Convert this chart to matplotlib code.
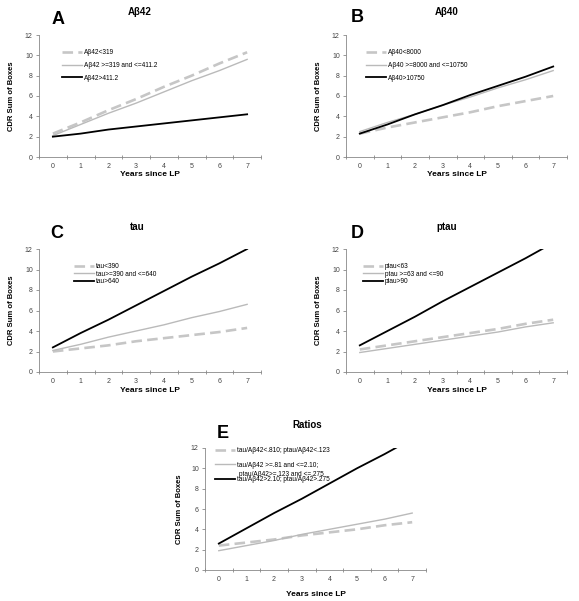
import matplotlib
matplotlib.use("Agg")
import matplotlib.pyplot as plt

plt.rcParams['font.family'] = ['Liberation Sans', 'DejaVu Sans']

years = [0, 1, 2, 3, 4, 5, 6, 7]

# panel A - Abeta42
a_low = [2.3, 3.4, 4.6, 5.7, 6.9, 8.0, 9.2, 10.3]
a_mid = [2.1, 3.2, 4.3, 5.3, 6.4, 7.5, 8.5, 9.6]
a_high = [2.0, 2.3, 2.7, 3.0, 3.3, 3.6, 3.9, 4.2]
a_labels = ["Aβ42<319", "Aβ42 >=319 and <=411.2", "Aβ42>411.2"]

# panel B - Abeta40
b_low = [2.3, 2.9, 3.4, 3.9, 4.4, 5.0, 5.5, 6.0]
b_mid = [2.5, 3.4, 4.2, 5.1, 5.9, 6.8, 7.6, 8.5]
b_high = [2.3, 3.2, 4.2, 5.1, 6.1, 7.0, 7.9, 8.9]
b_labels = ["Aβ40<8000", "Aβ40 >=8000 and <=10750", "Aβ40>10750"]

# panel C - tau
c_low = [2.0, 2.3, 2.6, 3.0, 3.3, 3.6, 3.9, 4.3]
c_mid = [2.1, 2.7, 3.4, 4.0, 4.6, 5.3, 5.9, 6.6]
c_high = [2.4, 3.8, 5.1, 6.5, 7.9, 9.3, 10.6, 12.0]
c_labels = ["tau<390", "tau>=390 and <=640", "tau>640"]

# panel D - ptau
d_low = [2.2, 2.6, 3.0, 3.4, 3.8, 4.2, 4.7, 5.1]
d_mid = [1.9, 2.3, 2.7, 3.1, 3.5, 3.9, 4.4, 4.8]
d_high = [2.6, 4.0, 5.4, 6.9, 8.3, 9.7, 11.1, 12.6]
d_labels = ["ptau<63", "ptau >=63 and <=90", "ptau>90"]

# panel E - ratios
e_low = [2.4, 2.7, 3.0, 3.4, 3.7, 4.0, 4.4, 4.7]
e_mid = [1.9, 2.4, 2.9, 3.5, 4.0, 4.5, 5.0, 5.6]
e_high = [2.6, 4.1, 5.6, 7.0, 8.5, 10.0, 11.4, 12.9]
e_labels = ["tau/Aβ42<.810; ptau/Aβ42<.123", "tau/Aβ42 >=.81 and <=2.10;",
            "tau/Aβ42>2.10; ptau/Aβ42>.275"]
e_extra = "ptau/Aβ42>=.123 and <=.275"

W, H = 579, 601
fig = plt.figure(figsize=(W / 100, H / 100), dpi=100)


def fx(x):
    return x / W


def fy(y):
    return 1 - y / H


def panel(box, letter, title, letter_xy, title_xy, ylab_x, xlab_y,
          low, mid, high, labels, leg_xy, spacing):
    left, top, right, bottom = box
    ax = fig.add_axes([fx(left), fy(bottom), fx(right - left), (bottom - top) / H])
    ax.plot(years, low, color="#c6c6c6", lw=1.9, dashes=(4, 2), label=labels[0])
    ax.plot(years, mid, color="#bababa", lw=1.0, label=labels[1])
    ax.plot(years, high, color="black", lw=1.3, label=labels[2])
    ax.set_xlim(-0.5, 7.5)
    ax.set_ylim(0, 12)
    ax.set_yticks(range(0, 13, 2))
    ax.set_xticks(years)
    ax.set_xticks([x - 0.5 for x in range(9)], minor=True)
    ax.tick_params(axis="x", which="major", length=0, labelsize=5, colors="#444444", pad=4)
    ax.tick_params(axis="x", which="minor", length=3, direction="inout", color="#888888", width=0.6)
    ax.tick_params(axis="y", length=2.5, width=0.6, color="#888888", labelsize=5,
                   labelcolor="#444444", pad=2)
    for s in ["top", "right"]:
        ax.spines[s].set_visible(False)
    for s in ["left", "bottom"]:
        ax.spines[s].set_color("#888888")
        ax.spines[s].set_linewidth(0.6)
    ax.patch.set_alpha(0)

    fig.text(fx(letter_xy[0]), fy(letter_xy[1]), letter, fontsize=13, fontweight="bold",
             ha="center", va="center")
    fig.text(fx(title_xy[0]), fy(title_xy[1]), title, fontsize=7, fontweight="bold",
             ha="center", va="center")
    fig.text(fx(ylab_x), fy((top + bottom) / 2), "CDR Sum of Boxes", fontsize=5.5,
             fontweight="bold", rotation=90, ha="center", va="center")
    fig.text(fx((left + right) / 2), fy(xlab_y), "Years since LP", fontsize=6,
             fontweight="bold", ha="center", va="center")

    ax.legend(loc="upper left", bbox_to_anchor=(fx(leg_xy[0]), fy(leg_xy[1])),
              bbox_transform=fig.transFigure, frameon=False, fontsize=4.7,
              borderpad=0, borderaxespad=0, handlelength=3.0, handletextpad=0.3,
              labelspacing=spacing)
    return ax


panel((39, 35, 261, 157), "A", "Aβ42", (58, 20), (140, 12), 12, 175,
      a_low, a_mid, a_high, a_labels, (62, 49), 0.9)
panel((346, 35, 567, 157), "B", "Aβ40", (357, 18), (447, 12), 319, 175,
      b_low, b_mid, b_high, b_labels, (366, 49), 0.9)
panel((39, 249, 261, 372), "C", "tau", (57, 233), (137, 227), 12, 390,
      c_low, c_mid, c_high, c_labels, (74, 263), 0.1)
panel((346, 249, 567, 372), "D", "ptau", (357, 233), (447, 227), 319, 390,
      d_low, d_mid, d_high, d_labels, (363, 263), 0.1)
panel((205, 448, 426, 570), "E", "Ratios", (223, 433), (307, 425), 179, 595,
      e_low, e_mid, e_high, e_labels, (215, 447), 1.15)
fig.text(fx(239), fy(474), e_extra, fontsize=4.7, ha="left", va="center")

fig.savefig("out.png", dpi=100)
